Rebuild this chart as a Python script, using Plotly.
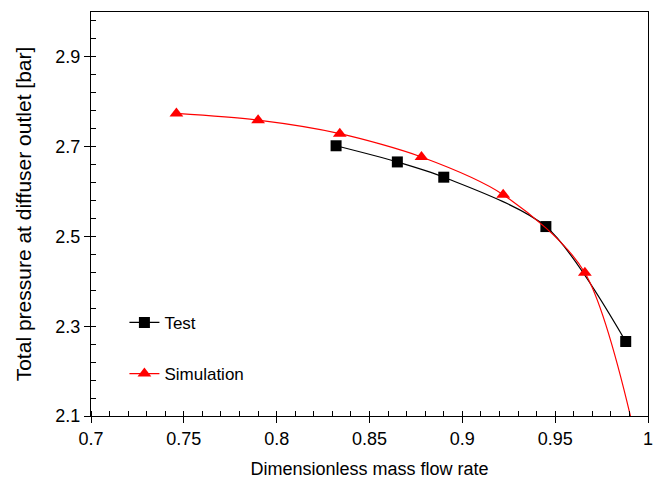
import plotly.graph_objects as go

# Test data
test_x = [0.832, 0.865, 0.890, 0.945, 0.988]
test_y = [2.702, 2.666, 2.632, 2.522, 2.266]

# Simulation data (last point lies below the visible range)
sim_x = [0.746, 0.790, 0.834, 0.878, 0.922, 0.966, 1.010]
sim_y = [2.774, 2.759, 2.729, 2.677, 2.593, 2.419, 1.72]

x_range = [0.7, 1.0]
y_range = [2.1, 3.0]
x_ticks = [0.7, 0.75, 0.8, 0.85, 0.9, 0.95, 1.0]
x_ticktext = ["0.7", "0.75", "0.8", "0.85", "0.9", "0.95", "1"]
y_ticks = [2.1, 2.3, 2.5, 2.7, 2.9]
y_ticktext = ["2.1", "2.3", "2.5", "2.7", "2.9"]

FONT = "Liberation Sans, Arial, sans-serif"

fig = go.Figure()
fig.add_trace(go.Scatter(
    x=test_x, y=test_y, name="Test", mode="lines+markers",
    line=dict(color="black", width=1.2, shape="spline", smoothing=0.8),
    marker=dict(symbol="square", size=11, color="black"),
    legendgroup="a",
))
fig.add_trace(go.Scatter(
    x=sim_x, y=sim_y, name="Simulation", mode="lines+markers",
    line=dict(color="red", width=1.2, shape="spline", smoothing=0.8),
    marker=dict(symbol="triangle-up", size=12, color="red"),
    legendgroup="b",
))

axis_common = dict(
    showline=True, linecolor="black", linewidth=1.3, mirror=True,
    showgrid=False, zeroline=False, automargin=False,
    ticks="outside", ticklen=6, tickwidth=1.3, tickcolor="black",
    tickfont=dict(family=FONT, size=18, color="black"),
)

fig.update_xaxes(
    range=x_range, tickmode="array", tickvals=x_ticks, ticktext=x_ticktext,
    title=dict(text="Dimensionless mass flow rate", font=dict(family=FONT, size=18, color="black"), standoff=14),
    minor=dict(ticks="inside", ticklen=5, tickwidth=1.1, tickcolor="black", dtick=0.01, tick0=0.7, showgrid=False),
    **axis_common,
)
fig.update_yaxes(
    range=y_range, tickmode="array", tickvals=y_ticks, ticktext=y_ticktext,
    title=dict(text="Total pressure at diffuser outlet [bar]", font=dict(family=FONT, size=21, color="black"), standoff=17),
    minor=dict(ticks="inside", ticklen=5, tickwidth=1.1, tickcolor="black", dtick=0.04, tick0=2.1, showgrid=False),
    **axis_common,
)

fig.update_layout(
    width=662, height=482,
    margin=dict(l=91, r=14, t=12, b=66),
    plot_bgcolor="white", paper_bgcolor="white",
    font=dict(family=FONT, size=16, color="black"),
    legend=dict(x=0.06, y=0.275, xanchor="left", yanchor="top",
                bgcolor="rgba(0,0,0,0)", tracegroupgap=26, itemwidth=30,
                font=dict(family=FONT, size=17, color="black")),
)

fig.write_html("out.html")
